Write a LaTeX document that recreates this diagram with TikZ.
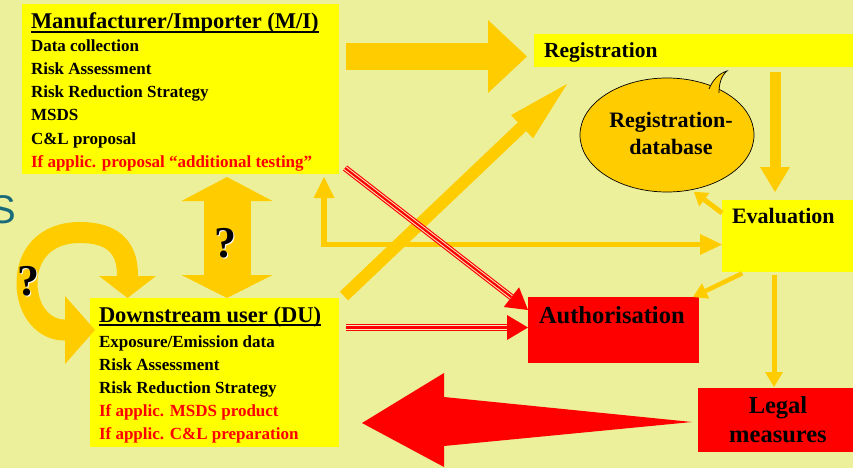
\documentclass[tikz,border=0pt]{standalone}
\usepackage{fontspec}
\setmainfont{Liberation Serif}
\newfontfamily\sansS{Liberation Sans}
\usetikzlibrary{arrows.meta,shapes.geometric}
\definecolor{bgc}{RGB}{236,240,155}
\definecolor{ylw}{RGB}{255,255,0}
\definecolor{org}{RGB}{255,204,0}
\definecolor{rd}{RGB}{255,0,0}
\definecolor{gapc}{RGB}{250,235,190}
\definecolor{tealS}{RGB}{26,107,122}
\newcommand\fsz[1]{\fontsize{#1}{#1}\selectfont\bfseries}
\newcommand\tripleline[2]{%
  \draw[rd, line width=6.5pt, -{Triangle[length=21pt,width=25pt,line width=0pt]}] #1 -- #2;
  \draw[gapc, line width=4.2pt, shorten >=21pt] #1 -- #2;
  \draw[rd, line width=2.2pt, shorten >=21pt] #1 -- #2;}
\tikzset{
  box/.style={fill=#1, draw=none, inner sep=0pt, outer sep=0pt, anchor=north west},
  item/.style={inner sep=0pt, outer sep=0pt, anchor=base west, font=\fsz{17}},
  ttl/.style={inner sep=0pt, outer sep=0pt, anchor=base west, font=\fsz{22.5}},
  lbl/.style={inner sep=0pt, outer sep=0pt, font=\fsz{#1}},
  qmark/.style={inner sep=0pt, outer sep=0pt, anchor=base, font=\fsz{44}},
}
\begin{document}
\begin{tikzpicture}[x=1pt,y=-1pt]
\useasboundingbox (0,0) rectangle (853,468);
\fill[bgc] (0,0) rectangle (853,468);

% partial letter at left edge
\node[inner sep=0pt, anchor=base east, text=tealS, font=\sansS\fontsize{40}{40}\selectfont] (sletter) at (16,223) {S};

% boxes
\node[box=ylw, minimum width=317pt, minimum height=170pt] (mi) at (22,4) {};
\node[box=ylw, minimum width=249pt, minimum height=149pt] (du) at (90,298) {};
\node[box=ylw, minimum width=319pt, minimum height=33pt] (reg) at (534,34) {};
\node[box=ylw, minimum width=131pt, minimum height=72pt] (eval) at (722,200) {};
\node[box=rd, minimum width=171pt, minimum height=66pt] (auth) at (528,297) {};
\node[box=rd, minimum width=155pt, minimum height=64pt] (legal) at (698,388) {};

% bubble
\node[ellipse, draw=black, line width=0.7pt, fill=org, minimum width=174pt, minimum height=114pt, inner sep=0pt] (bubble) at (667,135) {};
\filldraw[fill=org, draw=black, line width=0.7pt] (709,89) .. controls (713,79) and (720,73) .. (727,71) .. controls (721,76) and (719,84) .. (719,93);

% M/I text
\node[ttl] (mit) at (31,29) {Manufacturer/Importer (M/I)};
\draw[line width=2pt] ([yshift=-3pt]mit.base west) -- ([yshift=-3pt]mit.base east);
\node[item] (mi1) at (31,52) {Data collection};
\node[item] (mi2) at (31,75) {Risk Assessment};
\node[item] (mi3) at (31,98) {Risk Reduction Strategy};
\node[item] (mi4) at (31,121) {MSDS};
\node[item] (mi5) at (31,144) {C\&L proposal};
\node[item, text=rd] (mi6) at (31,167) {If applic. proposal “additional testing”};

% DU text
\node[ttl] (dut) at (99,322) {Downstream user (DU)};
\draw[line width=2pt] ([yshift=-3pt]dut.base west) -- ([yshift=-3pt]dut.base east);
\node[item] (du1) at (99,347) {Exposure/Emission data};
\node[item] (du2) at (99,370) {Risk Assessment};
\node[item] (du3) at (99,393) {Risk Reduction Strategy};
\node[item, text=rd] (du4) at (99,416) {If applic. MSDS product};
\node[item, text=rd] (du5) at (99,439) {If applic. C\&L preparation};

% other labels
\node[lbl=21.5, anchor=base west] (regt) at (544,58) {Registration};
\node[lbl=22, anchor=base west] (evalt) at (732,223) {Evaluation};
\node[lbl=24.5, anchor=base west] (autht) at (539,323) {Authorisation};
\node[lbl=24.5, anchor=base] (legt1) at (778,413) {Legal};
\node[lbl=24.5, anchor=base] (legt2) at (778,442) {measures};
\node[lbl=22, anchor=base] (dbt1) at (671,128) {Registration-};
\node[lbl=22, anchor=base] (dbt2) at (671,154) {database};

% orange arrows
\draw[org, line width=27pt, -{Triangle[length=39pt,width=73pt,line width=0pt]}, shorten <=7pt, shorten >=7pt]
  (mi.east |- 0,56.5) -- (reg.west |- 0,56.5);
\draw[org, line width=11pt, -{Triangle[length=25pt,width=30pt,line width=0pt]}, shorten <=5pt, shorten >=8pt]
  (reg.south -| 775,0) -- (eval.north -| 775,0);
\draw[org, line width=5pt, -{Triangle[length=13pt,width=17pt,line width=0pt]}, shorten >=3pt]
  (eval.west |- 0,213) -- (bubble.-66);
\draw[org, line width=5.5pt, {Triangle[length=21pt,width=21pt,line width=0pt]}-{Triangle[length=22pt,width=21pt,line width=0pt]}, shorten <=3pt]
  (mi.south -| 324,0) |- (eval.west |- 0,244.5);
\coordinate (dgs) at (344,296);
\coordinate (dgt) at (567,84);
\draw[org, line width=12pt, -{Triangle[length=62pt,width=32pt,line width=0pt]}] (dgs) -- (dgt);
\draw[org, line width=4.5pt, -{Triangle[length=14pt,width=17pt,line width=0pt]}, shorten <=3pt]
  (eval.south -| 745,0) -- ([xshift=-6pt]auth.north east);
\draw[org, line width=5pt, -{Triangle[length=15pt,width=18pt,line width=0pt]}, shorten <=3pt, shorten >=1pt]
  (eval.south -| 774,0) -- (legal.north -| 774,0);
\draw[org, line width=47pt, {Triangle[length=24pt,width=91pt,line width=0pt]}-{Triangle[length=23pt,width=91pt,line width=0pt]}, shorten <=3pt]
  (mi.south -| 227,0) -- (du.north -| 227,0);
\draw[org, line width=21pt, {Triangle[length=22pt,width=57pt,line width=0pt]}-{Triangle[length=30pt,width=68pt,line width=0pt]}]
  (127.5,298) -- (127.5,275) .. controls (127.5,245) and (110,232.5) .. (80,232.5)
  .. controls (45,232.5) and (27,255) .. (27,283)
  .. controls (27,312) and (45,330) .. (64,330) -- (95,330);

% red arrows
\coordinate (r1s) at (345,168);
\coordinate (r2s) at (346,327.5);
\tripleline{(r1s)}{(auth.west |- 0,310)}
\tripleline{(r2s)}{(auth.west |- 0,327.5)}
\fill[rd] ([xshift=-6pt]legal.west |- 0,422) -- (444,397) -- (444,373) -- (362,423) -- (444,467) -- (444,446) -- cycle;

% question marks
\node[qmark, text=white] (q1s) at (226.5,258.5) {?};
\node[qmark] (q1) at (225,257) {?};
\node[qmark, text=white] (q2s) at (29.5,296.5) {?};
\node[qmark] (q2) at (28,295) {?};
\end{tikzpicture}
\end{document}
